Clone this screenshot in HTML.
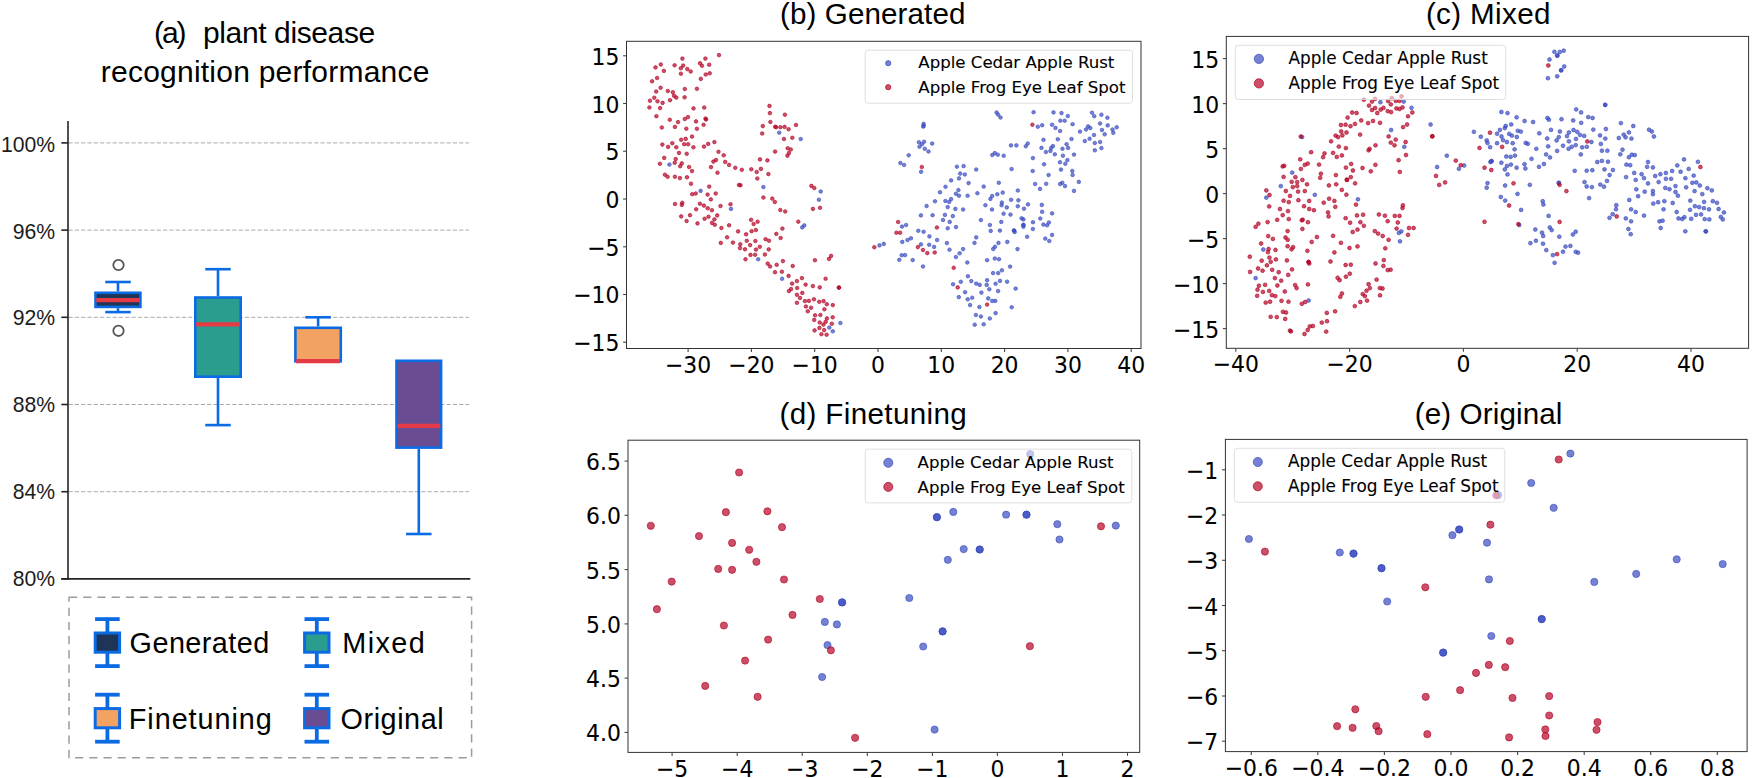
<!DOCTYPE html>
<html lang="en"><head><meta charset="utf-8"><title>Plant disease recognition performance and t-SNE</title>
<style>
html,body{margin:0;padding:0;background:#fff;}
body{width:1756px;height:778px;overflow:hidden;}
svg{display:block;}
.ttl{font-family:"Liberation Sans",sans-serif;fill:#000;}
.tk{font-family:"DejaVu Sans","Liberation Sans",sans-serif;font-size:21.9px;fill:#000;stroke:#000;stroke-width:.08px;}
.lg{font-family:"DejaVu Sans","Liberation Sans",sans-serif;fill:#000;stroke:#000;stroke-width:.1px;}
.pa{font-family:"Liberation Sans",sans-serif;font-size:21.2px;fill:#1c1c1c;}
.r{fill:#b40426;fill-opacity:.7;stroke:#b40426;stroke-opacity:.7}
.b{fill:#3b4cc0;fill-opacity:.7;stroke:#3b4cc0;stroke-opacity:.7}
</style></head><body>
<svg width="1756" height="778" viewBox="0 0 1756 778">
<rect width="1756" height="778" fill="#fff"/>

<text class="ttl" x="154.0" y="43" font-size="30" textLength="32.6">(a)</text>
<text class="ttl" x="203.0" y="43" font-size="30" textLength="172.2">plant disease</text>
<text class="ttl" x="100.8" y="82.3" font-size="30" textLength="328.6">recognition performance</text>
<line x1="68.5" x2="469" y1="142.9" y2="142.9" stroke="#aaaaaa" stroke-width="1" stroke-dasharray="4.2 2.1"/>
<line x1="68.5" x2="469" y1="230.1" y2="230.1" stroke="#aaaaaa" stroke-width="1" stroke-dasharray="4.2 2.1"/>
<line x1="68.5" x2="469" y1="317.3" y2="317.3" stroke="#aaaaaa" stroke-width="1" stroke-dasharray="4.2 2.1"/>
<line x1="68.5" x2="469" y1="404.5" y2="404.5" stroke="#aaaaaa" stroke-width="1" stroke-dasharray="4.2 2.1"/>
<line x1="68.5" x2="469" y1="491.7" y2="491.7" stroke="#aaaaaa" stroke-width="1" stroke-dasharray="4.2 2.1"/>
<line x1="118.0" x2="118.0" y1="282.0" y2="291.5" stroke="#0b6be3" stroke-width="2.6"/><line x1="105.25" x2="130.75" y1="282.0" y2="282.0" stroke="#0b6be3" stroke-width="2.6"/><line x1="118.0" x2="118.0" y1="312.1" y2="308.2" stroke="#0b6be3" stroke-width="2.6"/><line x1="105.25" x2="130.75" y1="312.1" y2="312.1" stroke="#0b6be3" stroke-width="2.6"/><rect x="95.5" y="292.8" width="44.9" height="14.1" fill="#1f3557" stroke="#0b6be3" stroke-width="2.6"/><line x1="96.3" x2="139.7" y1="300.2" y2="300.2" stroke="#e63946" stroke-width="4.2"/>
<line x1="218.0" x2="218.0" y1="269.2" y2="296.2" stroke="#0b6be3" stroke-width="2.6"/><line x1="205.25" x2="230.75" y1="269.2" y2="269.2" stroke="#0b6be3" stroke-width="2.6"/><line x1="218.0" x2="218.0" y1="425.1" y2="378.0" stroke="#0b6be3" stroke-width="2.6"/><line x1="205.25" x2="230.75" y1="425.1" y2="425.1" stroke="#0b6be3" stroke-width="2.6"/><rect x="195.3" y="297.5" width="45.4" height="79.2" fill="#2a9d8f" stroke="#0b6be3" stroke-width="2.6"/><line x1="196.1" x2="239.9" y1="324.4" y2="324.4" stroke="#e63946" stroke-width="4.2"/>
<line x1="318.1" x2="318.1" y1="317.3" y2="326.5" stroke="#0b6be3" stroke-width="2.6"/><line x1="305.35" x2="330.85" y1="317.3" y2="317.3" stroke="#0b6be3" stroke-width="2.6"/><rect x="295.4" y="327.8" width="45.4" height="33.5" fill="#f4a261" stroke="#0b6be3" stroke-width="2.6"/><line x1="296.2" x2="340.0" y1="361.2" y2="361.2" stroke="#e63946" stroke-width="4.2"/>
<line x1="418.8" x2="418.8" y1="534.0" y2="448.9" stroke="#0b6be3" stroke-width="2.6"/><line x1="406.05" x2="431.55" y1="534.0" y2="534.0" stroke="#0b6be3" stroke-width="2.6"/><rect x="396.5" y="360.8" width="44.6" height="86.8" fill="#6a4c93" stroke="#0b6be3" stroke-width="2.6"/><line x1="397.3" x2="440.3" y1="425.8" y2="425.8" stroke="#e63946" stroke-width="4.2"/>
<circle cx="118.5" cy="265.0" r="5.2" fill="#fff" stroke="#555" stroke-width="1.8"/>
<circle cx="118.5" cy="330.8" r="5.2" fill="#fff" stroke="#555" stroke-width="1.8"/>
<line x1="68" x2="68" y1="121" y2="579.7" stroke="#242424" stroke-width="1.6"/>
<line x1="61.3" x2="470.3" y1="578.9" y2="578.9" stroke="#242424" stroke-width="1.6"/>
<line x1="61.3" x2="68" y1="142.9" y2="142.9" stroke="#242424" stroke-width="1.6"/>
<text class="pa" x="55.2" y="151.6" text-anchor="end">100%</text>
<line x1="61.3" x2="68" y1="230.1" y2="230.1" stroke="#242424" stroke-width="1.6"/>
<text class="pa" x="55.2" y="238.5" text-anchor="end">96%</text>
<line x1="61.3" x2="68" y1="317.3" y2="317.3" stroke="#242424" stroke-width="1.6"/>
<text class="pa" x="55.2" y="325.4" text-anchor="end">92%</text>
<line x1="61.3" x2="68" y1="404.5" y2="404.5" stroke="#242424" stroke-width="1.6"/>
<text class="pa" x="55.2" y="412.3" text-anchor="end">88%</text>
<line x1="61.3" x2="68" y1="491.7" y2="491.7" stroke="#242424" stroke-width="1.6"/>
<text class="pa" x="55.2" y="499.2" text-anchor="end">84%</text>
<line x1="61.3" x2="68" y1="578.9" y2="578.9" stroke="#242424" stroke-width="1.6"/>
<text class="pa" x="55.2" y="586.1" text-anchor="end">80%</text>
<rect x="69" y="597.3" width="402.6" height="160.5" fill="none" stroke="#9c9c9c" stroke-width="1.5" stroke-dasharray="8.2 6"/>
<line x1="107.4" x2="107.4" y1="619.1" y2="666.1" stroke="#0b6be3" stroke-width="3.8"/><line x1="95.10000000000001" x2="119.7" y1="619.1" y2="619.1" stroke="#0b6be3" stroke-width="3.8"/><line x1="95.10000000000001" x2="119.7" y1="666.1" y2="666.1" stroke="#0b6be3" stroke-width="3.8"/><rect x="95.2" y="633.0" width="24.4" height="19.2" fill="#1f3557" stroke="#0b6be3" stroke-width="3"/>
<text class="ttl" x="129.6" y="652.8" font-size="28.8" textLength="139.6">Generated</text>
<line x1="316.8" x2="316.8" y1="619.1" y2="666.1" stroke="#0b6be3" stroke-width="3.8"/><line x1="304.5" x2="329.1" y1="619.1" y2="619.1" stroke="#0b6be3" stroke-width="3.8"/><line x1="304.5" x2="329.1" y1="666.1" y2="666.1" stroke="#0b6be3" stroke-width="3.8"/><rect x="304.6" y="633.0" width="24.4" height="19.2" fill="#2a9d8f" stroke="#0b6be3" stroke-width="3"/>
<text class="ttl" x="342.2" y="652.8" font-size="28.8" textLength="82.6">Mixed</text>
<line x1="107.4" x2="107.4" y1="694.7" y2="741.7" stroke="#0b6be3" stroke-width="3.8"/><line x1="95.10000000000001" x2="119.7" y1="694.7" y2="694.7" stroke="#0b6be3" stroke-width="3.8"/><line x1="95.10000000000001" x2="119.7" y1="741.7" y2="741.7" stroke="#0b6be3" stroke-width="3.8"/><rect x="95.2" y="708.6" width="24.4" height="19.2" fill="#f4a261" stroke="#0b6be3" stroke-width="3"/>
<text class="ttl" x="128.8" y="728.8" font-size="28.8" textLength="143">Finetuning</text>
<line x1="316.8" x2="316.8" y1="694.7" y2="741.7" stroke="#0b6be3" stroke-width="3.8"/><line x1="304.5" x2="329.1" y1="694.7" y2="694.7" stroke="#0b6be3" stroke-width="3.8"/><line x1="304.5" x2="329.1" y1="741.7" y2="741.7" stroke="#0b6be3" stroke-width="3.8"/><rect x="304.6" y="708.6" width="24.4" height="19.2" fill="#6a4c93" stroke="#0b6be3" stroke-width="3"/>
<text class="ttl" x="340.6" y="728.8" font-size="28.8" textLength="103">Original</text>
<g id="pb"><text class="ttl" x="780.0" y="23.8" font-size="29.6" textLength="185.4">(b) Generated</text><g class="b" stroke-width="0.9"><circle cx="779.2" cy="132.7" r="1.8"/><circle cx="800.7" cy="139.0" r="1.8"/><circle cx="669.4" cy="164.6" r="1.8"/><circle cx="700.6" cy="190.9" r="1.8"/><circle cx="763.4" cy="187.1" r="1.8"/><circle cx="820.7" cy="191.5" r="1.8"/><circle cx="818.9" cy="199.7" r="1.8"/><circle cx="731.0" cy="208.9" r="1.8"/><circle cx="804.3" cy="225.4" r="1.8"/><circle cx="802.2" cy="227.4" r="1.8"/><circle cx="758.2" cy="259.3" r="1.8"/><circle cx="879.5" cy="245.4" r="1.8"/><circle cx="883.8" cy="243.9" r="1.8"/><circle cx="782.1" cy="278.8" r="1.8"/><circle cx="840.4" cy="323.0" r="1.8"/><circle cx="829.3" cy="327.6" r="1.8"/><circle cx="832.8" cy="331.3" r="1.8"/><circle cx="996.6" cy="112.5" r="1.8"/><circle cx="998.1" cy="114.6" r="1.8"/><circle cx="1000.5" cy="117.5" r="1.8"/><circle cx="1033.6" cy="112.2" r="1.8"/><circle cx="1053.5" cy="112.4" r="1.8"/><circle cx="1061.5" cy="113.1" r="1.8"/><circle cx="1067.8" cy="116.1" r="1.8"/><circle cx="1092.0" cy="112.7" r="1.8"/><circle cx="1094.2" cy="116.2" r="1.8"/><circle cx="1101.4" cy="114.7" r="1.8"/><circle cx="1107.4" cy="117.7" r="1.8"/><circle cx="1060.4" cy="120.7" r="1.8"/><circle cx="1064.7" cy="120.7" r="1.8"/><circle cx="1072.6" cy="124.2" r="1.8"/><circle cx="1100.1" cy="123.5" r="1.8"/><circle cx="1107.7" cy="125.4" r="1.8"/><circle cx="1116.7" cy="127.2" r="1.8"/><circle cx="923.6" cy="123.9" r="1.8"/><circle cx="923.6" cy="125.7" r="1.8"/><circle cx="923.3" cy="126.6" r="1.8"/><circle cx="1037.8" cy="126.7" r="1.8"/><circle cx="1042.2" cy="125.2" r="1.8"/><circle cx="1052.1" cy="124.7" r="1.8"/><circle cx="1055.5" cy="127.9" r="1.8"/><circle cx="1060.1" cy="131.0" r="1.8"/><circle cx="1088.1" cy="126.4" r="1.8"/><circle cx="1090.3" cy="128.1" r="1.8"/><circle cx="1086.0" cy="129.5" r="1.8"/><circle cx="1080.0" cy="131.6" r="1.8"/><circle cx="1102.0" cy="130.0" r="1.8"/><circle cx="1112.5" cy="129.5" r="1.8"/><circle cx="1113.3" cy="132.8" r="1.8"/><circle cx="1104.7" cy="134.3" r="1.8"/><circle cx="1094.0" cy="135.0" r="1.8"/><circle cx="1043.5" cy="139.8" r="1.8"/><circle cx="1057.8" cy="139.3" r="1.8"/><circle cx="1071.5" cy="139.0" r="1.8"/><circle cx="1089.6" cy="138.7" r="1.8"/><circle cx="1084.8" cy="141.1" r="1.8"/><circle cx="1094.8" cy="143.0" r="1.8"/><circle cx="1100.1" cy="142.0" r="1.8"/><circle cx="918.9" cy="142.3" r="1.8"/><circle cx="924.1" cy="141.7" r="1.8"/><circle cx="922.0" cy="144.2" r="1.8"/><circle cx="932.2" cy="143.6" r="1.8"/><circle cx="919.5" cy="146.7" r="1.8"/><circle cx="924.8" cy="148.8" r="1.8"/><circle cx="928.5" cy="151.5" r="1.8"/><circle cx="1011.0" cy="145.4" r="1.8"/><circle cx="1016.4" cy="145.4" r="1.8"/><circle cx="1027.7" cy="143.5" r="1.8"/><circle cx="1025.8" cy="146.3" r="1.8"/><circle cx="1066.6" cy="144.2" r="1.8"/><circle cx="1053.0" cy="146.1" r="1.8"/><circle cx="1051.2" cy="147.9" r="1.8"/><circle cx="1041.5" cy="147.9" r="1.8"/><circle cx="1062.5" cy="148.8" r="1.8"/><circle cx="1068.1" cy="147.9" r="1.8"/><circle cx="1101.4" cy="148.1" r="1.8"/><circle cx="1094.8" cy="150.3" r="1.8"/><circle cx="1045.9" cy="152.0" r="1.8"/><circle cx="1050.4" cy="151.0" r="1.8"/><circle cx="1054.8" cy="154.3" r="1.8"/><circle cx="1074.0" cy="154.6" r="1.8"/><circle cx="908.7" cy="155.3" r="1.8"/><circle cx="994.8" cy="153.1" r="1.8"/><circle cx="992.3" cy="155.0" r="1.8"/><circle cx="997.8" cy="154.7" r="1.8"/><circle cx="1003.7" cy="155.7" r="1.8"/><circle cx="1062.9" cy="155.7" r="1.8"/><circle cx="1032.9" cy="158.1" r="1.8"/><circle cx="1067.4" cy="160.1" r="1.8"/><circle cx="900.4" cy="163.0" r="1.8"/><circle cx="904.1" cy="165.0" r="1.8"/><circle cx="1060.0" cy="162.2" r="1.8"/><circle cx="1065.3" cy="163.7" r="1.8"/><circle cx="1044.1" cy="164.3" r="1.8"/><circle cx="956.9" cy="166.7" r="1.8"/><circle cx="963.6" cy="166.1" r="1.8"/><circle cx="976.2" cy="169.5" r="1.8"/><circle cx="1011.6" cy="169.0" r="1.8"/><circle cx="1061.0" cy="169.6" r="1.8"/><circle cx="1032.7" cy="171.0" r="1.8"/><circle cx="1072.3" cy="171.0" r="1.8"/><circle cx="921.1" cy="171.8" r="1.8"/><circle cx="960.2" cy="173.6" r="1.8"/><circle cx="964.8" cy="174.5" r="1.8"/><circle cx="1048.6" cy="175.0" r="1.8"/><circle cx="1072.6" cy="175.0" r="1.8"/><circle cx="959.0" cy="178.4" r="1.8"/><circle cx="951.1" cy="180.4" r="1.8"/><circle cx="968.6" cy="183.1" r="1.8"/><circle cx="998.8" cy="182.8" r="1.8"/><circle cx="1078.8" cy="181.9" r="1.8"/><circle cx="1062.3" cy="182.8" r="1.8"/><circle cx="1060.1" cy="184.1" r="1.8"/><circle cx="1065.0" cy="186.1" r="1.8"/><circle cx="1035.1" cy="184.0" r="1.8"/><circle cx="1046.2" cy="183.8" r="1.8"/><circle cx="945.5" cy="186.8" r="1.8"/><circle cx="983.7" cy="186.6" r="1.8"/><circle cx="1040.0" cy="188.9" r="1.8"/><circle cx="958.4" cy="190.1" r="1.8"/><circle cx="1017.8" cy="190.5" r="1.8"/><circle cx="1074.0" cy="190.9" r="1.8"/><circle cx="940.0" cy="192.3" r="1.8"/><circle cx="955.9" cy="193.8" r="1.8"/><circle cx="959.0" cy="195.7" r="1.8"/><circle cx="967.6" cy="195.7" r="1.8"/><circle cx="977.4" cy="193.2" r="1.8"/><circle cx="997.3" cy="194.2" r="1.8"/><circle cx="1002.7" cy="192.6" r="1.8"/><circle cx="992.2" cy="196.0" r="1.8"/><circle cx="990.4" cy="198.9" r="1.8"/><circle cx="951.1" cy="199.1" r="1.8"/><circle cx="945.4" cy="201.0" r="1.8"/><circle cx="949.2" cy="201.9" r="1.8"/><circle cx="935.0" cy="201.3" r="1.8"/><circle cx="1011.1" cy="199.8" r="1.8"/><circle cx="1018.4" cy="200.3" r="1.8"/><circle cx="1001.9" cy="202.5" r="1.8"/><circle cx="1001.6" cy="205.2" r="1.8"/><circle cx="1028.0" cy="204.4" r="1.8"/><circle cx="1041.8" cy="204.9" r="1.8"/><circle cx="985.4" cy="205.2" r="1.8"/><circle cx="926.6" cy="206.0" r="1.8"/><circle cx="947.7" cy="207.1" r="1.8"/><circle cx="955.4" cy="208.9" r="1.8"/><circle cx="963.1" cy="209.5" r="1.8"/><circle cx="992.0" cy="209.5" r="1.8"/><circle cx="1006.8" cy="207.4" r="1.8"/><circle cx="1017.8" cy="206.2" r="1.8"/><circle cx="1024.0" cy="208.7" r="1.8"/><circle cx="1042.1" cy="211.8" r="1.8"/><circle cx="1052.1" cy="213.4" r="1.8"/><circle cx="1003.6" cy="213.7" r="1.8"/><circle cx="1010.5" cy="214.6" r="1.8"/><circle cx="920.9" cy="215.4" r="1.8"/><circle cx="932.6" cy="215.2" r="1.8"/><circle cx="944.9" cy="214.9" r="1.8"/><circle cx="952.8" cy="216.1" r="1.8"/><circle cx="943.0" cy="220.0" r="1.8"/><circle cx="949.7" cy="221.9" r="1.8"/><circle cx="980.9" cy="220.1" r="1.8"/><circle cx="1001.3" cy="221.9" r="1.8"/><circle cx="1021.6" cy="218.3" r="1.8"/><circle cx="1023.4" cy="219.4" r="1.8"/><circle cx="1040.3" cy="218.5" r="1.8"/><circle cx="1033.0" cy="222.2" r="1.8"/><circle cx="1048.9" cy="222.5" r="1.8"/><circle cx="1043.4" cy="224.6" r="1.8"/><circle cx="1047.1" cy="225.3" r="1.8"/><circle cx="906.1" cy="225.0" r="1.8"/><circle cx="902.0" cy="226.6" r="1.8"/><circle cx="989.9" cy="225.0" r="1.8"/><circle cx="1023.4" cy="224.8" r="1.8"/><circle cx="1023.4" cy="225.0" r="1.8"/><circle cx="1023.4" cy="226.8" r="1.8"/><circle cx="956.0" cy="227.1" r="1.8"/><circle cx="947.7" cy="228.3" r="1.8"/><circle cx="1032.9" cy="229.0" r="1.8"/><circle cx="990.7" cy="230.9" r="1.8"/><circle cx="999.9" cy="230.6" r="1.8"/><circle cx="1013.9" cy="230.5" r="1.8"/><circle cx="1014.1" cy="230.6" r="1.8"/><circle cx="1014.7" cy="232.0" r="1.8"/><circle cx="918.3" cy="230.8" r="1.8"/><circle cx="923.6" cy="231.8" r="1.8"/><circle cx="1052.1" cy="234.9" r="1.8"/><circle cx="1027.1" cy="236.8" r="1.8"/><circle cx="929.4" cy="236.4" r="1.8"/><circle cx="976.2" cy="237.4" r="1.8"/><circle cx="1045.3" cy="238.6" r="1.8"/><circle cx="1049.3" cy="241.0" r="1.8"/><circle cx="937.1" cy="240.0" r="1.8"/><circle cx="910.9" cy="238.3" r="1.8"/><circle cx="907.5" cy="240.0" r="1.8"/><circle cx="902.3" cy="241.9" r="1.8"/><circle cx="946.9" cy="243.1" r="1.8"/><circle cx="974.5" cy="242.9" r="1.8"/><circle cx="998.5" cy="242.9" r="1.8"/><circle cx="1007.3" cy="241.9" r="1.8"/><circle cx="920.9" cy="244.4" r="1.8"/><circle cx="929.2" cy="244.8" r="1.8"/><circle cx="934.1" cy="246.9" r="1.8"/><circle cx="995.0" cy="246.8" r="1.8"/><circle cx="993.2" cy="249.0" r="1.8"/><circle cx="1017.5" cy="249.1" r="1.8"/><circle cx="963.1" cy="249.1" r="1.8"/><circle cx="949.5" cy="249.7" r="1.8"/><circle cx="959.6" cy="253.3" r="1.8"/><circle cx="955.9" cy="257.0" r="1.8"/><circle cx="901.7" cy="255.2" r="1.8"/><circle cx="905.1" cy="255.1" r="1.8"/><circle cx="899.3" cy="259.8" r="1.8"/><circle cx="912.7" cy="260.1" r="1.8"/><circle cx="987.1" cy="260.2" r="1.8"/><circle cx="994.8" cy="258.5" r="1.8"/><circle cx="999.0" cy="259.2" r="1.8"/><circle cx="967.3" cy="262.5" r="1.8"/><circle cx="923.0" cy="266.5" r="1.8"/><circle cx="1010.1" cy="266.6" r="1.8"/><circle cx="1001.9" cy="270.3" r="1.8"/><circle cx="993.1" cy="273.1" r="1.8"/><circle cx="998.2" cy="273.1" r="1.8"/><circle cx="967.9" cy="276.3" r="1.8"/><circle cx="987.1" cy="280.2" r="1.8"/><circle cx="960.8" cy="281.8" r="1.8"/><circle cx="971.3" cy="281.1" r="1.8"/><circle cx="1000.0" cy="280.9" r="1.8"/><circle cx="1007.1" cy="281.7" r="1.8"/><circle cx="953.1" cy="284.3" r="1.8"/><circle cx="976.2" cy="283.6" r="1.8"/><circle cx="979.7" cy="284.9" r="1.8"/><circle cx="986.7" cy="284.9" r="1.8"/><circle cx="995.6" cy="283.7" r="1.8"/><circle cx="989.3" cy="289.2" r="1.8"/><circle cx="1015.6" cy="288.6" r="1.8"/><circle cx="998.1" cy="291.1" r="1.8"/><circle cx="965.1" cy="292.2" r="1.8"/><circle cx="981.4" cy="292.6" r="1.8"/><circle cx="958.8" cy="297.1" r="1.8"/><circle cx="967.7" cy="299.3" r="1.8"/><circle cx="972.2" cy="297.7" r="1.8"/><circle cx="988.2" cy="298.4" r="1.8"/><circle cx="992.2" cy="300.9" r="1.8"/><circle cx="995.3" cy="300.9" r="1.8"/><circle cx="970.1" cy="305.1" r="1.8"/><circle cx="979.4" cy="307.0" r="1.8"/><circle cx="1011.7" cy="307.3" r="1.8"/><circle cx="995.6" cy="313.1" r="1.8"/><circle cx="975.9" cy="315.0" r="1.8"/><circle cx="980.9" cy="316.5" r="1.8"/><circle cx="989.8" cy="318.5" r="1.8"/><circle cx="974.7" cy="324.7" r="1.8"/><circle cx="983.7" cy="324.3" r="1.8"/></g><g class="r" stroke-width="0.9"><circle cx="719.0" cy="55.1" r="1.8"/><circle cx="682.4" cy="58.6" r="1.8"/><circle cx="705.4" cy="58.6" r="1.8"/><circle cx="660.8" cy="64.5" r="1.8"/><circle cx="674.6" cy="65.3" r="1.8"/><circle cx="683.2" cy="65.6" r="1.8"/><circle cx="700.0" cy="63.2" r="1.8"/><circle cx="702.0" cy="65.7" r="1.8"/><circle cx="709.2" cy="64.7" r="1.8"/><circle cx="655.5" cy="67.4" r="1.8"/><circle cx="680.8" cy="68.2" r="1.8"/><circle cx="687.3" cy="69.1" r="1.8"/><circle cx="690.7" cy="71.5" r="1.8"/><circle cx="663.9" cy="70.9" r="1.8"/><circle cx="680.9" cy="73.7" r="1.8"/><circle cx="709.7" cy="73.3" r="1.8"/><circle cx="705.7" cy="74.5" r="1.8"/><circle cx="700.8" cy="78.9" r="1.8"/><circle cx="657.1" cy="78.0" r="1.8"/><circle cx="652.1" cy="81.3" r="1.8"/><circle cx="660.6" cy="87.8" r="1.8"/><circle cx="684.8" cy="89.0" r="1.8"/><circle cx="696.9" cy="88.8" r="1.8"/><circle cx="656.2" cy="91.5" r="1.8"/><circle cx="667.8" cy="91.0" r="1.8"/><circle cx="672.8" cy="92.2" r="1.8"/><circle cx="674.0" cy="95.8" r="1.8"/><circle cx="676.3" cy="97.6" r="1.8"/><circle cx="684.6" cy="97.3" r="1.8"/><circle cx="654.3" cy="97.7" r="1.8"/><circle cx="650.0" cy="100.7" r="1.8"/><circle cx="657.5" cy="101.3" r="1.8"/><circle cx="662.6" cy="102.9" r="1.8"/><circle cx="670.0" cy="100.2" r="1.8"/><circle cx="649.4" cy="107.5" r="1.8"/><circle cx="660.1" cy="108.1" r="1.8"/><circle cx="693.5" cy="108.4" r="1.8"/><circle cx="704.2" cy="107.6" r="1.8"/><circle cx="656.4" cy="116.2" r="1.8"/><circle cx="688.0" cy="117.1" r="1.8"/><circle cx="684.8" cy="119.0" r="1.8"/><circle cx="669.8" cy="119.8" r="1.8"/><circle cx="678.0" cy="122.1" r="1.8"/><circle cx="696.0" cy="121.4" r="1.8"/><circle cx="705.5" cy="118.6" r="1.8"/><circle cx="706.1" cy="119.5" r="1.8"/><circle cx="703.6" cy="124.8" r="1.8"/><circle cx="661.8" cy="127.5" r="1.8"/><circle cx="674.9" cy="126.9" r="1.8"/><circle cx="686.3" cy="128.7" r="1.8"/><circle cx="696.9" cy="128.8" r="1.8"/><circle cx="692.0" cy="136.6" r="1.8"/><circle cx="685.7" cy="138.9" r="1.8"/><circle cx="681.2" cy="139.8" r="1.8"/><circle cx="672.3" cy="143.2" r="1.8"/><circle cx="662.4" cy="144.6" r="1.8"/><circle cx="668.1" cy="146.9" r="1.8"/><circle cx="676.3" cy="147.3" r="1.8"/><circle cx="684.2" cy="144.2" r="1.8"/><circle cx="688.2" cy="144.2" r="1.8"/><circle cx="693.4" cy="147.3" r="1.8"/><circle cx="704.0" cy="146.6" r="1.8"/><circle cx="708.2" cy="143.9" r="1.8"/><circle cx="714.4" cy="142.1" r="1.8"/><circle cx="679.0" cy="152.9" r="1.8"/><circle cx="686.7" cy="153.8" r="1.8"/><circle cx="718.5" cy="151.8" r="1.8"/><circle cx="723.7" cy="155.3" r="1.8"/><circle cx="769.5" cy="105.9" r="1.8"/><circle cx="769.9" cy="113.1" r="1.8"/><circle cx="784.9" cy="114.7" r="1.8"/><circle cx="770.4" cy="122.0" r="1.8"/><circle cx="762.8" cy="126.1" r="1.8"/><circle cx="775.2" cy="126.7" r="1.8"/><circle cx="776.1" cy="127.2" r="1.8"/><circle cx="780.4" cy="127.2" r="1.8"/><circle cx="784.6" cy="126.9" r="1.8"/><circle cx="788.6" cy="129.2" r="1.8"/><circle cx="796.0" cy="125.0" r="1.8"/><circle cx="762.2" cy="133.5" r="1.8"/><circle cx="784.0" cy="139.0" r="1.8"/><circle cx="792.3" cy="137.8" r="1.8"/><circle cx="775.1" cy="151.6" r="1.8"/><circle cx="787.7" cy="148.3" r="1.8"/><circle cx="790.8" cy="149.5" r="1.8"/><circle cx="788.9" cy="153.1" r="1.8"/><circle cx="787.4" cy="155.7" r="1.8"/><circle cx="664.2" cy="157.9" r="1.8"/><circle cx="675.7" cy="159.1" r="1.8"/><circle cx="716.0" cy="160.0" r="1.8"/><circle cx="713.4" cy="161.6" r="1.8"/><circle cx="725.2" cy="161.9" r="1.8"/><circle cx="760.0" cy="159.4" r="1.8"/><circle cx="767.4" cy="160.4" r="1.8"/><circle cx="659.9" cy="163.8" r="1.8"/><circle cx="674.7" cy="162.8" r="1.8"/><circle cx="681.8" cy="163.4" r="1.8"/><circle cx="680.2" cy="166.2" r="1.8"/><circle cx="689.1" cy="167.0" r="1.8"/><circle cx="711.0" cy="167.1" r="1.8"/><circle cx="729.1" cy="164.9" r="1.8"/><circle cx="735.3" cy="167.8" r="1.8"/><circle cx="741.8" cy="169.8" r="1.8"/><circle cx="751.3" cy="169.3" r="1.8"/><circle cx="760.9" cy="168.9" r="1.8"/><circle cx="756.7" cy="172.0" r="1.8"/><circle cx="692.0" cy="171.1" r="1.8"/><circle cx="717.5" cy="172.7" r="1.8"/><circle cx="768.4" cy="174.1" r="1.8"/><circle cx="664.9" cy="174.7" r="1.8"/><circle cx="667.6" cy="176.7" r="1.8"/><circle cx="674.9" cy="176.7" r="1.8"/><circle cx="679.9" cy="178.1" r="1.8"/><circle cx="687.0" cy="177.3" r="1.8"/><circle cx="757.3" cy="178.5" r="1.8"/><circle cx="691.0" cy="183.7" r="1.8"/><circle cx="709.2" cy="186.6" r="1.8"/><circle cx="739.0" cy="185.0" r="1.8"/><circle cx="740.5" cy="185.2" r="1.8"/><circle cx="811.4" cy="185.9" r="1.8"/><circle cx="814.3" cy="188.0" r="1.8"/><circle cx="692.2" cy="194.2" r="1.8"/><circle cx="695.7" cy="193.5" r="1.8"/><circle cx="707.6" cy="194.6" r="1.8"/><circle cx="715.7" cy="193.5" r="1.8"/><circle cx="710.8" cy="199.4" r="1.8"/><circle cx="763.4" cy="197.5" r="1.8"/><circle cx="772.3" cy="198.6" r="1.8"/><circle cx="774.8" cy="202.0" r="1.8"/><circle cx="675.0" cy="204.0" r="1.8"/><circle cx="682.3" cy="202.8" r="1.8"/><circle cx="681.8" cy="204.9" r="1.8"/><circle cx="699.9" cy="203.7" r="1.8"/><circle cx="703.9" cy="205.6" r="1.8"/><circle cx="730.5" cy="204.3" r="1.8"/><circle cx="720.5" cy="206.0" r="1.8"/><circle cx="707.7" cy="208.3" r="1.8"/><circle cx="711.9" cy="210.2" r="1.8"/><circle cx="696.2" cy="209.3" r="1.8"/><circle cx="780.3" cy="210.0" r="1.8"/><circle cx="785.2" cy="211.5" r="1.8"/><circle cx="812.9" cy="208.9" r="1.8"/><circle cx="820.0" cy="207.8" r="1.8"/><circle cx="681.2" cy="216.4" r="1.8"/><circle cx="690.0" cy="215.2" r="1.8"/><circle cx="717.2" cy="215.4" r="1.8"/><circle cx="708.5" cy="216.7" r="1.8"/><circle cx="704.6" cy="218.8" r="1.8"/><circle cx="714.4" cy="219.4" r="1.8"/><circle cx="686.6" cy="221.0" r="1.8"/><circle cx="697.5" cy="223.4" r="1.8"/><circle cx="712.0" cy="222.9" r="1.8"/><circle cx="714.8" cy="224.8" r="1.8"/><circle cx="751.1" cy="219.8" r="1.8"/><circle cx="757.6" cy="221.7" r="1.8"/><circle cx="753.6" cy="224.0" r="1.8"/><circle cx="798.3" cy="221.7" r="1.8"/><circle cx="721.4" cy="228.0" r="1.8"/><circle cx="729.1" cy="225.3" r="1.8"/><circle cx="782.4" cy="228.6" r="1.8"/><circle cx="738.1" cy="231.4" r="1.8"/><circle cx="751.6" cy="231.2" r="1.8"/><circle cx="755.9" cy="230.0" r="1.8"/><circle cx="746.1" cy="234.3" r="1.8"/><circle cx="776.3" cy="233.9" r="1.8"/><circle cx="780.6" cy="238.0" r="1.8"/><circle cx="727.1" cy="237.3" r="1.8"/><circle cx="765.6" cy="239.2" r="1.8"/><circle cx="769.0" cy="240.7" r="1.8"/><circle cx="720.8" cy="242.9" r="1.8"/><circle cx="732.9" cy="242.6" r="1.8"/><circle cx="746.8" cy="240.8" r="1.8"/><circle cx="755.4" cy="241.0" r="1.8"/><circle cx="740.3" cy="244.2" r="1.8"/><circle cx="750.1" cy="245.1" r="1.8"/><circle cx="759.8" cy="246.8" r="1.8"/><circle cx="740.0" cy="248.1" r="1.8"/><circle cx="745.0" cy="249.3" r="1.8"/><circle cx="756.0" cy="249.6" r="1.8"/><circle cx="768.7" cy="249.4" r="1.8"/><circle cx="750.5" cy="254.9" r="1.8"/><circle cx="755.1" cy="254.8" r="1.8"/><circle cx="764.9" cy="254.5" r="1.8"/><circle cx="831.1" cy="255.9" r="1.8"/><circle cx="829.0" cy="258.9" r="1.8"/><circle cx="745.5" cy="259.3" r="1.8"/><circle cx="814.9" cy="260.2" r="1.8"/><circle cx="782.9" cy="261.1" r="1.8"/><circle cx="767.7" cy="263.6" r="1.8"/><circle cx="776.7" cy="264.8" r="1.8"/><circle cx="770.1" cy="266.5" r="1.8"/><circle cx="792.7" cy="266.0" r="1.8"/><circle cx="874.3" cy="247.2" r="1.8"/><circle cx="775.0" cy="272.2" r="1.8"/><circle cx="781.9" cy="271.7" r="1.8"/><circle cx="788.6" cy="275.9" r="1.8"/><circle cx="801.9" cy="278.1" r="1.8"/><circle cx="825.6" cy="278.7" r="1.8"/><circle cx="796.9" cy="281.1" r="1.8"/><circle cx="792.1" cy="283.6" r="1.8"/><circle cx="805.6" cy="284.6" r="1.8"/><circle cx="812.9" cy="286.1" r="1.8"/><circle cx="819.7" cy="287.4" r="1.8"/><circle cx="838.9" cy="287.6" r="1.8"/><circle cx="838.9" cy="287.6" r="1.8"/><circle cx="791.1" cy="289.1" r="1.8"/><circle cx="797.2" cy="288.0" r="1.8"/><circle cx="788.9" cy="291.1" r="1.8"/><circle cx="802.3" cy="292.9" r="1.8"/><circle cx="796.9" cy="294.8" r="1.8"/><circle cx="800.0" cy="297.9" r="1.8"/><circle cx="813.9" cy="299.3" r="1.8"/><circle cx="804.9" cy="301.1" r="1.8"/><circle cx="808.9" cy="300.9" r="1.8"/><circle cx="819.2" cy="301.8" r="1.8"/><circle cx="823.5" cy="301.1" r="1.8"/><circle cx="796.9" cy="302.8" r="1.8"/><circle cx="826.8" cy="304.2" r="1.8"/><circle cx="832.8" cy="305.1" r="1.8"/><circle cx="805.9" cy="306.5" r="1.8"/><circle cx="811.1" cy="307.7" r="1.8"/><circle cx="824.4" cy="309.3" r="1.8"/><circle cx="807.8" cy="311.3" r="1.8"/><circle cx="815.1" cy="315.3" r="1.8"/><circle cx="820.4" cy="315.0" r="1.8"/><circle cx="826.9" cy="318.4" r="1.8"/><circle cx="832.7" cy="317.3" r="1.8"/><circle cx="814.2" cy="319.9" r="1.8"/><circle cx="819.7" cy="322.5" r="1.8"/><circle cx="825.7" cy="321.8" r="1.8"/><circle cx="823.4" cy="324.6" r="1.8"/><circle cx="831.8" cy="323.7" r="1.8"/><circle cx="819.4" cy="327.9" r="1.8"/><circle cx="814.6" cy="330.4" r="1.8"/><circle cx="824.1" cy="330.1" r="1.8"/><circle cx="821.4" cy="334.2" r="1.8"/><circle cx="826.6" cy="334.7" r="1.8"/><circle cx="1032.4" cy="124.7" r="1.8"/><circle cx="921.8" cy="167.0" r="1.8"/><circle cx="898.1" cy="222.0" r="1.8"/><circle cx="936.9" cy="227.5" r="1.8"/><circle cx="896.4" cy="232.7" r="1.8"/><circle cx="900.1" cy="232.7" r="1.8"/><circle cx="917.8" cy="247.1" r="1.8"/><circle cx="923.0" cy="250.0" r="1.8"/><circle cx="927.3" cy="253.1" r="1.8"/><circle cx="934.7" cy="252.5" r="1.8"/><circle cx="953.7" cy="267.8" r="1.8"/><circle cx="957.7" cy="287.4" r="1.8"/><circle cx="987.1" cy="304.6" r="1.8"/></g><rect x="865.2" y="50.2" width="267.3" height="53" rx="3" ry="3" fill="#fff" fill-opacity="0.55" stroke="#d9d9d9" stroke-opacity="0.85" stroke-width="1"/><circle class="b" cx="888.2" cy="63.2" r="2.6" stroke-width="1.0"/><circle class="r" cx="888.2" cy="87.2" r="2.6" stroke-width="1.0"/><text class="lg" font-size="16.6" x="918.3" y="68.4">Apple Cedar Apple Rust</text><text class="lg" font-size="16.6" x="918.3" y="92.8">Apple Frog Eye Leaf Spot</text><rect x="626.5" y="41.3" width="514.5" height="307.2" fill="none" stroke="#333" stroke-width="1"/><line x1="688.1" x2="688.1" y1="348.5" y2="352.0" stroke="#444" stroke-width="1.1"/><text class="tk" transform="translate(688.1,372.6) scale(1,1.07)" text-anchor="middle">−30</text><line x1="751.4" x2="751.4" y1="348.5" y2="352.0" stroke="#444" stroke-width="1.1"/><text class="tk" transform="translate(751.4,372.6) scale(1,1.07)" text-anchor="middle">−20</text><line x1="814.7" x2="814.7" y1="348.5" y2="352.0" stroke="#444" stroke-width="1.1"/><text class="tk" transform="translate(814.7,372.6) scale(1,1.07)" text-anchor="middle">−10</text><line x1="878.0" x2="878.0" y1="348.5" y2="352.0" stroke="#444" stroke-width="1.1"/><text class="tk" transform="translate(878.0,372.6) scale(1,1.07)" text-anchor="middle">0</text><line x1="941.3" x2="941.3" y1="348.5" y2="352.0" stroke="#444" stroke-width="1.1"/><text class="tk" transform="translate(941.3,372.6) scale(1,1.07)" text-anchor="middle">10</text><line x1="1004.6" x2="1004.6" y1="348.5" y2="352.0" stroke="#444" stroke-width="1.1"/><text class="tk" transform="translate(1004.6,372.6) scale(1,1.07)" text-anchor="middle">20</text><line x1="1067.9" x2="1067.9" y1="348.5" y2="352.0" stroke="#444" stroke-width="1.1"/><text class="tk" transform="translate(1067.9,372.6) scale(1,1.07)" text-anchor="middle">30</text><line x1="1131.2" x2="1131.2" y1="348.5" y2="352.0" stroke="#444" stroke-width="1.1"/><text class="tk" transform="translate(1131.2,372.6) scale(1,1.07)" text-anchor="middle">40</text><line x1="623.1" x2="626.5" y1="55.8" y2="55.8" stroke="#444" stroke-width="1.1"/><text class="tk" transform="translate(619.4,64.8) scale(1,1.07)" text-anchor="end">15</text><line x1="623.1" x2="626.5" y1="103.5" y2="103.5" stroke="#444" stroke-width="1.1"/><text class="tk" transform="translate(619.4,112.5) scale(1,1.07)" text-anchor="end">10</text><line x1="623.1" x2="626.5" y1="151.2" y2="151.2" stroke="#444" stroke-width="1.1"/><text class="tk" transform="translate(619.4,160.1) scale(1,1.07)" text-anchor="end">5</text><line x1="623.1" x2="626.5" y1="199.0" y2="199.0" stroke="#444" stroke-width="1.1"/><text class="tk" transform="translate(619.4,207.9) scale(1,1.07)" text-anchor="end">0</text><line x1="623.1" x2="626.5" y1="246.8" y2="246.8" stroke="#444" stroke-width="1.1"/><text class="tk" transform="translate(619.4,255.8) scale(1,1.07)" text-anchor="end">−5</text><line x1="623.1" x2="626.5" y1="294.5" y2="294.5" stroke="#444" stroke-width="1.1"/><text class="tk" transform="translate(619.4,303.4) scale(1,1.07)" text-anchor="end">−10</text><line x1="623.1" x2="626.5" y1="342.2" y2="342.2" stroke="#444" stroke-width="1.1"/><text class="tk" transform="translate(619.4,351.1) scale(1,1.07)" text-anchor="end">−15</text></g>
<g id="pc"><text class="ttl" x="1425.9" y="23.8" font-size="29.6" textLength="124.6">(c) Mixed</text><g class="b" stroke-width="0.9"><circle cx="1380.4" cy="102.2" r="1.9"/><circle cx="1403.7" cy="101.6" r="1.9"/><circle cx="1411.5" cy="107.8" r="1.9"/><circle cx="1430.6" cy="124.5" r="1.9"/><circle cx="1391.1" cy="130.0" r="1.9"/><circle cx="1302.1" cy="137.1" r="1.9"/><circle cx="1473.9" cy="131.8" r="1.9"/><circle cx="1480.8" cy="136.7" r="1.9"/><circle cx="1404.3" cy="146.8" r="1.9"/><circle cx="1554.4" cy="51.8" r="1.9"/><circle cx="1559.7" cy="52.0" r="1.9"/><circle cx="1563.7" cy="50.7" r="1.9"/><circle cx="1557.2" cy="55.5" r="1.9"/><circle cx="1557.4" cy="55.7" r="1.9"/><circle cx="1549.5" cy="59.5" r="1.9"/><circle cx="1564.2" cy="66.5" r="1.9"/><circle cx="1561.1" cy="70.2" r="1.9"/><circle cx="1561.2" cy="70.4" r="1.9"/><circle cx="1557.2" cy="76.3" r="1.9"/><circle cx="1547.9" cy="78.2" r="1.9"/><circle cx="1605.2" cy="104.8" r="1.9"/><circle cx="1605.2" cy="105.0" r="1.9"/><circle cx="1576.2" cy="109.4" r="1.9"/><circle cx="1581.1" cy="112.4" r="1.9"/><circle cx="1501.4" cy="112.0" r="1.9"/><circle cx="1507.5" cy="113.1" r="1.9"/><circle cx="1516.6" cy="117.3" r="1.9"/><circle cx="1547.4" cy="117.9" r="1.9"/><circle cx="1548.9" cy="119.7" r="1.9"/><circle cx="1561.5" cy="119.2" r="1.9"/><circle cx="1573.2" cy="120.4" r="1.9"/><circle cx="1588.3" cy="117.1" r="1.9"/><circle cx="1592.6" cy="118.0" r="1.9"/><circle cx="1524.6" cy="121.0" r="1.9"/><circle cx="1533.1" cy="122.0" r="1.9"/><circle cx="1581.2" cy="122.8" r="1.9"/><circle cx="1620.9" cy="123.1" r="1.9"/><circle cx="1511.2" cy="124.4" r="1.9"/><circle cx="1633.3" cy="126.0" r="1.9"/><circle cx="1505.7" cy="126.0" r="1.9"/><circle cx="1504.8" cy="128.1" r="1.9"/><circle cx="1499.9" cy="129.9" r="1.9"/><circle cx="1551.0" cy="129.9" r="1.9"/><circle cx="1573.5" cy="130.0" r="1.9"/><circle cx="1577.2" cy="131.8" r="1.9"/><circle cx="1559.9" cy="131.5" r="1.9"/><circle cx="1568.9" cy="132.5" r="1.9"/><circle cx="1593.3" cy="129.6" r="1.9"/><circle cx="1605.9" cy="129.0" r="1.9"/><circle cx="1649.0" cy="129.7" r="1.9"/><circle cx="1651.8" cy="131.5" r="1.9"/><circle cx="1517.8" cy="130.8" r="1.9"/><circle cx="1520.8" cy="131.6" r="1.9"/><circle cx="1497.1" cy="133.7" r="1.9"/><circle cx="1539.3" cy="133.3" r="1.9"/><circle cx="1509.2" cy="133.9" r="1.9"/><circle cx="1511.9" cy="135.6" r="1.9"/><circle cx="1501.5" cy="136.5" r="1.9"/><circle cx="1516.8" cy="137.0" r="1.9"/><circle cx="1567.0" cy="136.1" r="1.9"/><circle cx="1580.0" cy="134.9" r="1.9"/><circle cx="1584.2" cy="135.9" r="1.9"/><circle cx="1600.0" cy="135.4" r="1.9"/><circle cx="1628.9" cy="132.4" r="1.9"/><circle cx="1623.7" cy="134.6" r="1.9"/><circle cx="1625.6" cy="137.3" r="1.9"/><circle cx="1653.9" cy="136.5" r="1.9"/><circle cx="1547.2" cy="138.5" r="1.9"/><circle cx="1558.8" cy="137.1" r="1.9"/><circle cx="1556.6" cy="140.4" r="1.9"/><circle cx="1576.0" cy="138.9" r="1.9"/><circle cx="1605.3" cy="138.6" r="1.9"/><circle cx="1618.8" cy="138.0" r="1.9"/><circle cx="1631.4" cy="138.6" r="1.9"/><circle cx="1503.0" cy="140.1" r="1.9"/><circle cx="1506.9" cy="142.0" r="1.9"/><circle cx="1486.7" cy="140.4" r="1.9"/><circle cx="1487.5" cy="142.9" r="1.9"/><circle cx="1497.1" cy="143.2" r="1.9"/><circle cx="1512.7" cy="143.2" r="1.9"/><circle cx="1525.7" cy="142.9" r="1.9"/><circle cx="1527.8" cy="143.8" r="1.9"/><circle cx="1568.9" cy="141.3" r="1.9"/><circle cx="1591.4" cy="142.0" r="1.9"/><circle cx="1600.9" cy="143.9" r="1.9"/><circle cx="1548.2" cy="146.3" r="1.9"/><circle cx="1563.0" cy="145.7" r="1.9"/><circle cx="1575.7" cy="145.1" r="1.9"/><circle cx="1571.7" cy="146.8" r="1.9"/><circle cx="1582.2" cy="147.3" r="1.9"/><circle cx="1586.8" cy="146.8" r="1.9"/><circle cx="1490.1" cy="147.2" r="1.9"/><circle cx="1514.6" cy="149.3" r="1.9"/><circle cx="1536.3" cy="148.8" r="1.9"/><circle cx="1568.6" cy="148.8" r="1.9"/><circle cx="1601.9" cy="150.7" r="1.9"/><circle cx="1607.4" cy="150.7" r="1.9"/><circle cx="1622.5" cy="149.7" r="1.9"/><circle cx="1557.1" cy="150.9" r="1.9"/><circle cx="1446.8" cy="155.7" r="1.9"/><circle cx="1437.1" cy="167.0" r="1.9"/><circle cx="1464.1" cy="165.5" r="1.9"/><circle cx="1458.9" cy="168.8" r="1.9"/><circle cx="1292.2" cy="172.6" r="1.9"/><circle cx="1280.8" cy="186.1" r="1.9"/><circle cx="1314.8" cy="194.8" r="1.9"/><circle cx="1266.3" cy="197.6" r="1.9"/><circle cx="1357.9" cy="199.3" r="1.9"/><circle cx="1401.3" cy="231.4" r="1.9"/><circle cx="1398.9" cy="232.9" r="1.9"/><circle cx="1400.0" cy="241.3" r="1.9"/><circle cx="1263.3" cy="249.5" r="1.9"/><circle cx="1546.1" cy="154.4" r="1.9"/><circle cx="1550.0" cy="157.4" r="1.9"/><circle cx="1580.8" cy="154.4" r="1.9"/><circle cx="1620.3" cy="154.3" r="1.9"/><circle cx="1631.8" cy="154.7" r="1.9"/><circle cx="1634.8" cy="155.1" r="1.9"/><circle cx="1628.9" cy="157.2" r="1.9"/><circle cx="1506.3" cy="156.5" r="1.9"/><circle cx="1510.6" cy="156.9" r="1.9"/><circle cx="1515.0" cy="155.6" r="1.9"/><circle cx="1531.5" cy="158.8" r="1.9"/><circle cx="1684.0" cy="159.4" r="1.9"/><circle cx="1491.6" cy="161.1" r="1.9"/><circle cx="1491.5" cy="161.2" r="1.9"/><circle cx="1490.4" cy="162.0" r="1.9"/><circle cx="1501.4" cy="162.7" r="1.9"/><circle cx="1597.3" cy="162.0" r="1.9"/><circle cx="1601.9" cy="160.9" r="1.9"/><circle cx="1608.0" cy="161.7" r="1.9"/><circle cx="1648.0" cy="162.0" r="1.9"/><circle cx="1697.9" cy="161.8" r="1.9"/><circle cx="1524.5" cy="164.2" r="1.9"/><circle cx="1510.9" cy="164.6" r="1.9"/><circle cx="1506.9" cy="166.0" r="1.9"/><circle cx="1543.9" cy="164.0" r="1.9"/><circle cx="1539.0" cy="166.8" r="1.9"/><circle cx="1626.4" cy="164.6" r="1.9"/><circle cx="1630.2" cy="165.2" r="1.9"/><circle cx="1677.3" cy="165.4" r="1.9"/><circle cx="1647.1" cy="166.8" r="1.9"/><circle cx="1652.9" cy="167.4" r="1.9"/><circle cx="1516.6" cy="167.7" r="1.9"/><circle cx="1525.4" cy="168.5" r="1.9"/><circle cx="1504.8" cy="169.4" r="1.9"/><circle cx="1574.7" cy="170.8" r="1.9"/><circle cx="1586.7" cy="170.7" r="1.9"/><circle cx="1592.3" cy="170.2" r="1.9"/><circle cx="1604.5" cy="169.4" r="1.9"/><circle cx="1612.9" cy="170.0" r="1.9"/><circle cx="1688.7" cy="168.9" r="1.9"/><circle cx="1672.1" cy="171.0" r="1.9"/><circle cx="1680.6" cy="171.7" r="1.9"/><circle cx="1507.5" cy="174.4" r="1.9"/><circle cx="1634.2" cy="172.9" r="1.9"/><circle cx="1641.6" cy="174.2" r="1.9"/><circle cx="1665.9" cy="172.9" r="1.9"/><circle cx="1660.4" cy="174.2" r="1.9"/><circle cx="1655.2" cy="176.0" r="1.9"/><circle cx="1609.6" cy="175.0" r="1.9"/><circle cx="1693.7" cy="175.6" r="1.9"/><circle cx="1626.1" cy="177.1" r="1.9"/><circle cx="1644.0" cy="178.1" r="1.9"/><circle cx="1685.4" cy="178.2" r="1.9"/><circle cx="1665.9" cy="178.8" r="1.9"/><circle cx="1671.1" cy="178.8" r="1.9"/><circle cx="1635.7" cy="179.9" r="1.9"/><circle cx="1607.0" cy="180.9" r="1.9"/><circle cx="1584.5" cy="182.1" r="1.9"/><circle cx="1658.6" cy="182.1" r="1.9"/><circle cx="1648.0" cy="183.4" r="1.9"/><circle cx="1692.3" cy="182.8" r="1.9"/><circle cx="1696.3" cy="182.4" r="1.9"/><circle cx="1487.5" cy="183.1" r="1.9"/><circle cx="1486.7" cy="187.7" r="1.9"/><circle cx="1505.1" cy="185.5" r="1.9"/><circle cx="1529.8" cy="184.8" r="1.9"/><circle cx="1558.8" cy="182.8" r="1.9"/><circle cx="1558.8" cy="183.0" r="1.9"/><circle cx="1600.3" cy="184.6" r="1.9"/><circle cx="1604.0" cy="186.7" r="1.9"/><circle cx="1586.7" cy="186.5" r="1.9"/><circle cx="1591.9" cy="187.1" r="1.9"/><circle cx="1675.5" cy="186.1" r="1.9"/><circle cx="1699.8" cy="185.5" r="1.9"/><circle cx="1686.2" cy="187.3" r="1.9"/><circle cx="1665.3" cy="187.9" r="1.9"/><circle cx="1669.5" cy="189.2" r="1.9"/><circle cx="1707.4" cy="188.2" r="1.9"/><circle cx="1711.8" cy="190.4" r="1.9"/><circle cx="1636.3" cy="189.3" r="1.9"/><circle cx="1644.7" cy="191.7" r="1.9"/><circle cx="1652.9" cy="191.0" r="1.9"/><circle cx="1652.9" cy="194.2" r="1.9"/><circle cx="1675.5" cy="192.0" r="1.9"/><circle cx="1694.6" cy="191.1" r="1.9"/><circle cx="1677.9" cy="195.7" r="1.9"/><circle cx="1702.3" cy="194.1" r="1.9"/><circle cx="1517.5" cy="193.9" r="1.9"/><circle cx="1638.1" cy="196.2" r="1.9"/><circle cx="1500.8" cy="197.0" r="1.9"/><circle cx="1505.2" cy="200.6" r="1.9"/><circle cx="1589.1" cy="198.1" r="1.9"/><circle cx="1629.3" cy="200.0" r="1.9"/><circle cx="1542.7" cy="201.2" r="1.9"/><circle cx="1543.4" cy="204.5" r="1.9"/><circle cx="1690.3" cy="200.6" r="1.9"/><circle cx="1664.4" cy="201.2" r="1.9"/><circle cx="1658.1" cy="202.2" r="1.9"/><circle cx="1653.3" cy="203.6" r="1.9"/><circle cx="1672.7" cy="203.0" r="1.9"/><circle cx="1704.1" cy="201.9" r="1.9"/><circle cx="1712.8" cy="201.2" r="1.9"/><circle cx="1717.0" cy="202.8" r="1.9"/><circle cx="1616.3" cy="205.2" r="1.9"/><circle cx="1616.0" cy="209.2" r="1.9"/><circle cx="1694.9" cy="206.2" r="1.9"/><circle cx="1699.2" cy="207.1" r="1.9"/><circle cx="1703.9" cy="208.2" r="1.9"/><circle cx="1709.0" cy="209.3" r="1.9"/><circle cx="1718.6" cy="209.0" r="1.9"/><circle cx="1521.1" cy="209.9" r="1.9"/><circle cx="1631.1" cy="209.3" r="1.9"/><circle cx="1635.7" cy="212.0" r="1.9"/><circle cx="1663.5" cy="209.3" r="1.9"/><circle cx="1690.0" cy="209.8" r="1.9"/><circle cx="1676.7" cy="212.0" r="1.9"/><circle cx="1723.9" cy="212.4" r="1.9"/><circle cx="1612.7" cy="214.2" r="1.9"/><circle cx="1609.5" cy="217.8" r="1.9"/><circle cx="1548.6" cy="215.9" r="1.9"/><circle cx="1644.0" cy="215.6" r="1.9"/><circle cx="1696.0" cy="214.8" r="1.9"/><circle cx="1701.1" cy="214.4" r="1.9"/><circle cx="1720.8" cy="216.9" r="1.9"/><circle cx="1722.8" cy="219.4" r="1.9"/><circle cx="1625.8" cy="218.4" r="1.9"/><circle cx="1678.5" cy="218.4" r="1.9"/><circle cx="1682.2" cy="219.0" r="1.9"/><circle cx="1684.4" cy="217.2" r="1.9"/><circle cx="1691.2" cy="218.8" r="1.9"/><circle cx="1704.7" cy="219.1" r="1.9"/><circle cx="1709.3" cy="219.4" r="1.9"/><circle cx="1631.1" cy="221.3" r="1.9"/><circle cx="1659.5" cy="221.3" r="1.9"/><circle cx="1662.6" cy="220.7" r="1.9"/><circle cx="1519.2" cy="225.0" r="1.9"/><circle cx="1628.4" cy="229.0" r="1.9"/><circle cx="1660.7" cy="228.0" r="1.9"/><circle cx="1685.3" cy="231.3" r="1.9"/><circle cx="1705.7" cy="231.3" r="1.9"/><circle cx="1705.9" cy="231.4" r="1.9"/><circle cx="1535.3" cy="229.5" r="1.9"/><circle cx="1549.8" cy="227.5" r="1.9"/><circle cx="1551.7" cy="230.1" r="1.9"/><circle cx="1542.0" cy="232.6" r="1.9"/><circle cx="1543.2" cy="236.0" r="1.9"/><circle cx="1575.7" cy="231.7" r="1.9"/><circle cx="1572.9" cy="234.5" r="1.9"/><circle cx="1559.3" cy="236.7" r="1.9"/><circle cx="1630.7" cy="234.2" r="1.9"/><circle cx="1535.9" cy="240.7" r="1.9"/><circle cx="1530.4" cy="243.1" r="1.9"/><circle cx="1543.0" cy="243.7" r="1.9"/><circle cx="1565.5" cy="246.6" r="1.9"/><circle cx="1570.4" cy="245.9" r="1.9"/><circle cx="1546.3" cy="250.1" r="1.9"/><circle cx="1563.0" cy="251.7" r="1.9"/><circle cx="1575.7" cy="251.8" r="1.9"/><circle cx="1578.1" cy="252.7" r="1.9"/><circle cx="1552.9" cy="255.1" r="1.9"/><circle cx="1554.6" cy="262.8" r="1.9"/><circle cx="1255.6" cy="278.1" r="1.9"/><circle cx="1308.6" cy="300.5" r="1.9"/></g><g class="r" stroke-width="0.9"><circle cx="1363.8" cy="99.7" r="1.9"/><circle cx="1375.1" cy="98.9" r="1.9"/><circle cx="1391.8" cy="98.2" r="1.9"/><circle cx="1401.5" cy="96.3" r="1.9"/><circle cx="1372.0" cy="101.6" r="1.9"/><circle cx="1388.1" cy="101.1" r="1.9"/><circle cx="1395.8" cy="100.9" r="1.9"/><circle cx="1399.5" cy="100.9" r="1.9"/><circle cx="1369.0" cy="105.6" r="1.9"/><circle cx="1390.8" cy="104.4" r="1.9"/><circle cx="1375.1" cy="108.0" r="1.9"/><circle cx="1383.5" cy="107.8" r="1.9"/><circle cx="1372.0" cy="110.0" r="1.9"/><circle cx="1380.7" cy="109.6" r="1.9"/><circle cx="1396.4" cy="108.4" r="1.9"/><circle cx="1399.5" cy="109.0" r="1.9"/><circle cx="1402.5" cy="107.4" r="1.9"/><circle cx="1387.7" cy="111.1" r="1.9"/><circle cx="1391.1" cy="112.1" r="1.9"/><circle cx="1377.3" cy="113.0" r="1.9"/><circle cx="1412.3" cy="112.5" r="1.9"/><circle cx="1408.0" cy="116.3" r="1.9"/><circle cx="1352.2" cy="112.5" r="1.9"/><circle cx="1356.6" cy="113.0" r="1.9"/><circle cx="1347.6" cy="117.6" r="1.9"/><circle cx="1361.2" cy="120.4" r="1.9"/><circle cx="1368.1" cy="123.1" r="1.9"/><circle cx="1373.0" cy="121.0" r="1.9"/><circle cx="1380.0" cy="122.8" r="1.9"/><circle cx="1355.0" cy="123.9" r="1.9"/><circle cx="1345.6" cy="124.7" r="1.9"/><circle cx="1341.0" cy="125.0" r="1.9"/><circle cx="1350.5" cy="126.2" r="1.9"/><circle cx="1407.1" cy="124.5" r="1.9"/><circle cx="1403.1" cy="127.1" r="1.9"/><circle cx="1341.2" cy="131.5" r="1.9"/><circle cx="1346.5" cy="132.5" r="1.9"/><circle cx="1360.1" cy="134.6" r="1.9"/><circle cx="1335.6" cy="135.6" r="1.9"/><circle cx="1342.4" cy="135.4" r="1.9"/><circle cx="1338.1" cy="137.1" r="1.9"/><circle cx="1388.6" cy="136.4" r="1.9"/><circle cx="1395.7" cy="139.6" r="1.9"/><circle cx="1432.3" cy="136.2" r="1.9"/><circle cx="1432.3" cy="136.4" r="1.9"/><circle cx="1300.8" cy="136.5" r="1.9"/><circle cx="1331.1" cy="141.3" r="1.9"/><circle cx="1390.8" cy="142.6" r="1.9"/><circle cx="1394.5" cy="145.3" r="1.9"/><circle cx="1405.6" cy="142.0" r="1.9"/><circle cx="1338.8" cy="146.6" r="1.9"/><circle cx="1345.9" cy="148.1" r="1.9"/><circle cx="1375.5" cy="145.3" r="1.9"/><circle cx="1369.6" cy="148.8" r="1.9"/><circle cx="1368.6" cy="150.3" r="1.9"/><circle cx="1479.5" cy="147.9" r="1.9"/><circle cx="1548.3" cy="65.5" r="1.9"/><circle cx="1490.0" cy="132.7" r="1.9"/><circle cx="1587.3" cy="141.4" r="1.9"/><circle cx="1502.1" cy="146.9" r="1.9"/><circle cx="1311.1" cy="152.2" r="1.9"/><circle cx="1324.5" cy="153.4" r="1.9"/><circle cx="1333.1" cy="152.9" r="1.9"/><circle cx="1323.1" cy="157.2" r="1.9"/><circle cx="1336.8" cy="156.9" r="1.9"/><circle cx="1341.9" cy="155.4" r="1.9"/><circle cx="1406.0" cy="155.0" r="1.9"/><circle cx="1300.2" cy="159.3" r="1.9"/><circle cx="1398.6" cy="160.2" r="1.9"/><circle cx="1455.8" cy="160.6" r="1.9"/><circle cx="1307.7" cy="163.6" r="1.9"/><circle cx="1304.8" cy="164.9" r="1.9"/><circle cx="1319.0" cy="164.6" r="1.9"/><circle cx="1351.1" cy="163.9" r="1.9"/><circle cx="1375.4" cy="164.8" r="1.9"/><circle cx="1282.7" cy="166.4" r="1.9"/><circle cx="1284.2" cy="165.8" r="1.9"/><circle cx="1460.8" cy="165.2" r="1.9"/><circle cx="1345.9" cy="167.6" r="1.9"/><circle cx="1362.5" cy="168.0" r="1.9"/><circle cx="1300.9" cy="168.9" r="1.9"/><circle cx="1352.9" cy="170.5" r="1.9"/><circle cx="1370.8" cy="171.3" r="1.9"/><circle cx="1399.8" cy="171.9" r="1.9"/><circle cx="1484.5" cy="167.7" r="1.9"/><circle cx="1320.9" cy="173.7" r="1.9"/><circle cx="1335.9" cy="175.1" r="1.9"/><circle cx="1320.2" cy="177.8" r="1.9"/><circle cx="1283.6" cy="176.9" r="1.9"/><circle cx="1295.4" cy="177.2" r="1.9"/><circle cx="1350.8" cy="177.1" r="1.9"/><circle cx="1436.0" cy="175.9" r="1.9"/><circle cx="1302.4" cy="179.9" r="1.9"/><circle cx="1346.8" cy="179.7" r="1.9"/><circle cx="1347.0" cy="179.9" r="1.9"/><circle cx="1291.7" cy="181.8" r="1.9"/><circle cx="1297.2" cy="182.1" r="1.9"/><circle cx="1355.1" cy="183.3" r="1.9"/><circle cx="1307.0" cy="184.3" r="1.9"/><circle cx="1336.2" cy="184.3" r="1.9"/><circle cx="1328.9" cy="185.4" r="1.9"/><circle cx="1297.2" cy="186.1" r="1.9"/><circle cx="1292.8" cy="187.1" r="1.9"/><circle cx="1445.1" cy="182.4" r="1.9"/><circle cx="1439.2" cy="184.9" r="1.9"/><circle cx="1266.3" cy="190.4" r="1.9"/><circle cx="1285.8" cy="191.0" r="1.9"/><circle cx="1298.1" cy="191.6" r="1.9"/><circle cx="1304.8" cy="191.1" r="1.9"/><circle cx="1341.8" cy="189.9" r="1.9"/><circle cx="1269.5" cy="195.0" r="1.9"/><circle cx="1290.0" cy="195.9" r="1.9"/><circle cx="1346.4" cy="194.7" r="1.9"/><circle cx="1283.6" cy="200.7" r="1.9"/><circle cx="1288.8" cy="202.1" r="1.9"/><circle cx="1298.4" cy="200.2" r="1.9"/><circle cx="1309.2" cy="200.9" r="1.9"/><circle cx="1329.1" cy="198.7" r="1.9"/><circle cx="1334.4" cy="200.9" r="1.9"/><circle cx="1323.7" cy="202.7" r="1.9"/><circle cx="1356.0" cy="204.6" r="1.9"/><circle cx="1269.2" cy="206.4" r="1.9"/><circle cx="1304.0" cy="206.2" r="1.9"/><circle cx="1335.3" cy="206.8" r="1.9"/><circle cx="1402.9" cy="205.3" r="1.9"/><circle cx="1402.5" cy="208.0" r="1.9"/><circle cx="1280.0" cy="209.0" r="1.9"/><circle cx="1288.0" cy="211.1" r="1.9"/><circle cx="1309.2" cy="209.0" r="1.9"/><circle cx="1313.9" cy="210.2" r="1.9"/><circle cx="1328.0" cy="212.4" r="1.9"/><circle cx="1282.7" cy="215.1" r="1.9"/><circle cx="1328.6" cy="216.4" r="1.9"/><circle cx="1357.0" cy="215.4" r="1.9"/><circle cx="1363.1" cy="214.7" r="1.9"/><circle cx="1378.9" cy="214.5" r="1.9"/><circle cx="1384.9" cy="215.7" r="1.9"/><circle cx="1394.8" cy="215.9" r="1.9"/><circle cx="1399.5" cy="215.9" r="1.9"/><circle cx="1277.2" cy="219.8" r="1.9"/><circle cx="1288.8" cy="219.1" r="1.9"/><circle cx="1345.6" cy="218.2" r="1.9"/><circle cx="1301.8" cy="220.3" r="1.9"/><circle cx="1302.7" cy="219.7" r="1.9"/><circle cx="1267.6" cy="222.1" r="1.9"/><circle cx="1307.9" cy="222.2" r="1.9"/><circle cx="1350.1" cy="222.7" r="1.9"/><circle cx="1360.4" cy="222.2" r="1.9"/><circle cx="1387.7" cy="221.2" r="1.9"/><circle cx="1397.8" cy="222.5" r="1.9"/><circle cx="1484.5" cy="221.8" r="1.9"/><circle cx="1258.4" cy="223.7" r="1.9"/><circle cx="1255.6" cy="226.8" r="1.9"/><circle cx="1363.8" cy="225.8" r="1.9"/><circle cx="1302.4" cy="228.9" r="1.9"/><circle cx="1396.6" cy="228.6" r="1.9"/><circle cx="1409.0" cy="228.0" r="1.9"/><circle cx="1413.6" cy="228.0" r="1.9"/><circle cx="1287.6" cy="231.1" r="1.9"/><circle cx="1357.5" cy="229.6" r="1.9"/><circle cx="1352.7" cy="232.0" r="1.9"/><circle cx="1374.8" cy="231.1" r="1.9"/><circle cx="1378.1" cy="233.6" r="1.9"/><circle cx="1408.0" cy="234.8" r="1.9"/><circle cx="1268.2" cy="236.1" r="1.9"/><circle cx="1272.9" cy="238.9" r="1.9"/><circle cx="1285.5" cy="237.5" r="1.9"/><circle cx="1287.7" cy="239.8" r="1.9"/><circle cx="1316.9" cy="237.0" r="1.9"/><circle cx="1333.1" cy="235.8" r="1.9"/><circle cx="1382.7" cy="236.0" r="1.9"/><circle cx="1388.6" cy="239.8" r="1.9"/><circle cx="1311.7" cy="241.9" r="1.9"/><circle cx="1340.9" cy="242.8" r="1.9"/><circle cx="1261.1" cy="243.5" r="1.9"/><circle cx="1287.6" cy="246.2" r="1.9"/><circle cx="1293.1" cy="247.1" r="1.9"/><circle cx="1291.6" cy="249.3" r="1.9"/><circle cx="1357.5" cy="246.4" r="1.9"/><circle cx="1349.5" cy="248.0" r="1.9"/><circle cx="1385.3" cy="248.3" r="1.9"/><circle cx="1268.6" cy="249.0" r="1.9"/><circle cx="1275.5" cy="249.9" r="1.9"/><circle cx="1267.9" cy="252.1" r="1.9"/><circle cx="1307.4" cy="250.8" r="1.9"/><circle cx="1334.4" cy="252.4" r="1.9"/><circle cx="1249.8" cy="256.7" r="1.9"/><circle cx="1269.4" cy="257.6" r="1.9"/><circle cx="1275.9" cy="259.4" r="1.9"/><circle cx="1261.7" cy="260.7" r="1.9"/><circle cx="1270.7" cy="261.8" r="1.9"/><circle cx="1286.9" cy="260.4" r="1.9"/><circle cx="1330.5" cy="261.5" r="1.9"/><circle cx="1383.8" cy="260.1" r="1.9"/><circle cx="1308.5" cy="261.9" r="1.9"/><circle cx="1308.6" cy="262.0" r="1.9"/><circle cx="1309.2" cy="263.5" r="1.9"/><circle cx="1375.5" cy="263.5" r="1.9"/><circle cx="1345.6" cy="265.0" r="1.9"/><circle cx="1350.8" cy="264.7" r="1.9"/><circle cx="1266.9" cy="265.3" r="1.9"/><circle cx="1383.4" cy="265.9" r="1.9"/><circle cx="1491.3" cy="170.0" r="1.9"/><circle cx="1513.5" cy="183.3" r="1.9"/><circle cx="1559.6" cy="184.8" r="1.9"/><circle cx="1566.4" cy="191.1" r="1.9"/><circle cx="1509.1" cy="205.5" r="1.9"/><circle cx="1616.7" cy="216.4" r="1.9"/><circle cx="1559.6" cy="221.9" r="1.9"/><circle cx="1518.4" cy="224.1" r="1.9"/><circle cx="1557.1" cy="254.1" r="1.9"/><circle cx="1700.4" cy="167.0" r="1.9"/><circle cx="1258.1" cy="268.5" r="1.9"/><circle cx="1262.6" cy="270.7" r="1.9"/><circle cx="1250.1" cy="271.9" r="1.9"/><circle cx="1272.2" cy="269.8" r="1.9"/><circle cx="1278.7" cy="272.2" r="1.9"/><circle cx="1292.0" cy="269.4" r="1.9"/><circle cx="1288.2" cy="274.9" r="1.9"/><circle cx="1274.9" cy="278.1" r="1.9"/><circle cx="1281.2" cy="280.7" r="1.9"/><circle cx="1387.7" cy="270.1" r="1.9"/><circle cx="1390.6" cy="269.7" r="1.9"/><circle cx="1349.8" cy="273.7" r="1.9"/><circle cx="1345.9" cy="276.7" r="1.9"/><circle cx="1337.6" cy="277.8" r="1.9"/><circle cx="1339.6" cy="280.2" r="1.9"/><circle cx="1376.6" cy="279.6" r="1.9"/><circle cx="1258.9" cy="285.7" r="1.9"/><circle cx="1265.1" cy="284.8" r="1.9"/><circle cx="1277.4" cy="285.5" r="1.9"/><circle cx="1295.1" cy="285.1" r="1.9"/><circle cx="1307.9" cy="284.4" r="1.9"/><circle cx="1296.6" cy="288.1" r="1.9"/><circle cx="1368.6" cy="284.2" r="1.9"/><circle cx="1369.9" cy="288.1" r="1.9"/><circle cx="1379.8" cy="288.1" r="1.9"/><circle cx="1382.5" cy="288.5" r="1.9"/><circle cx="1257.5" cy="289.7" r="1.9"/><circle cx="1262.9" cy="291.9" r="1.9"/><circle cx="1269.2" cy="290.9" r="1.9"/><circle cx="1284.8" cy="291.5" r="1.9"/><circle cx="1366.5" cy="290.7" r="1.9"/><circle cx="1341.9" cy="293.5" r="1.9"/><circle cx="1362.7" cy="294.1" r="1.9"/><circle cx="1364.9" cy="296.1" r="1.9"/><circle cx="1257.2" cy="295.8" r="1.9"/><circle cx="1271.9" cy="295.2" r="1.9"/><circle cx="1275.3" cy="296.1" r="1.9"/><circle cx="1340.3" cy="296.8" r="1.9"/><circle cx="1380.0" cy="295.3" r="1.9"/><circle cx="1281.5" cy="300.8" r="1.9"/><circle cx="1288.5" cy="301.7" r="1.9"/><circle cx="1265.7" cy="302.6" r="1.9"/><circle cx="1270.1" cy="301.7" r="1.9"/><circle cx="1305.1" cy="302.0" r="1.9"/><circle cx="1301.8" cy="303.8" r="1.9"/><circle cx="1367.0" cy="300.6" r="1.9"/><circle cx="1360.3" cy="302.0" r="1.9"/><circle cx="1354.8" cy="306.1" r="1.9"/><circle cx="1282.9" cy="311.8" r="1.9"/><circle cx="1286.0" cy="312.5" r="1.9"/><circle cx="1335.1" cy="311.3" r="1.9"/><circle cx="1326.8" cy="312.9" r="1.9"/><circle cx="1270.7" cy="316.8" r="1.9"/><circle cx="1276.8" cy="317.1" r="1.9"/><circle cx="1285.2" cy="318.9" r="1.9"/><circle cx="1327.0" cy="321.2" r="1.9"/><circle cx="1321.8" cy="322.6" r="1.9"/><circle cx="1312.9" cy="326.0" r="1.9"/><circle cx="1309.8" cy="326.4" r="1.9"/><circle cx="1307.7" cy="330.0" r="1.9"/><circle cx="1290.0" cy="330.6" r="1.9"/><circle cx="1290.9" cy="331.4" r="1.9"/><circle cx="1326.2" cy="331.6" r="1.9"/><circle cx="1304.5" cy="334.0" r="1.9"/></g><rect x="1235.3" y="45.3" width="270.4" height="54.2" rx="3" ry="3" fill="#fff" fill-opacity="0.55" stroke="#d9d9d9" stroke-opacity="0.85" stroke-width="1"/><circle class="b" cx="1258.9" cy="58.9" r="4.65" stroke-width="1.0"/><circle class="r" cx="1258.9" cy="83.4" r="4.65" stroke-width="1.0"/><text class="lg" font-size="16.88" x="1288.55" y="64.1">Apple Cedar Apple Rust</text><text class="lg" font-size="16.88" x="1288.55" y="89">Apple Frog Eye Leaf Spot</text><rect x="1226.3" y="36.4" width="522.3" height="311.90000000000003" fill="none" stroke="#333" stroke-width="1"/><line x1="1235.8" x2="1235.8" y1="348.3" y2="351.8" stroke="#444" stroke-width="1.1"/><text class="tk" transform="translate(1235.8,372.4) scale(1,1.07)" text-anchor="middle">−40</text><line x1="1349.6" x2="1349.6" y1="348.3" y2="351.8" stroke="#444" stroke-width="1.1"/><text class="tk" transform="translate(1349.6,372.4) scale(1,1.07)" text-anchor="middle">−20</text><line x1="1463.4" x2="1463.4" y1="348.3" y2="351.8" stroke="#444" stroke-width="1.1"/><text class="tk" transform="translate(1463.4,372.4) scale(1,1.07)" text-anchor="middle">0</text><line x1="1577.2" x2="1577.2" y1="348.3" y2="351.8" stroke="#444" stroke-width="1.1"/><text class="tk" transform="translate(1577.2,372.4) scale(1,1.07)" text-anchor="middle">20</text><line x1="1691.0" x2="1691.0" y1="348.3" y2="351.8" stroke="#444" stroke-width="1.1"/><text class="tk" transform="translate(1691.0,372.4) scale(1,1.07)" text-anchor="middle">40</text><line x1="1222.8999999999999" x2="1226.3" y1="58.6" y2="58.6" stroke="#444" stroke-width="1.1"/><text class="tk" transform="translate(1219.2,67.5) scale(1,1.07)" text-anchor="end">15</text><line x1="1222.8999999999999" x2="1226.3" y1="103.6" y2="103.6" stroke="#444" stroke-width="1.1"/><text class="tk" transform="translate(1219.2,112.5) scale(1,1.07)" text-anchor="end">10</text><line x1="1222.8999999999999" x2="1226.3" y1="148.6" y2="148.6" stroke="#444" stroke-width="1.1"/><text class="tk" transform="translate(1219.2,157.5) scale(1,1.07)" text-anchor="end">5</text><line x1="1222.8999999999999" x2="1226.3" y1="193.6" y2="193.6" stroke="#444" stroke-width="1.1"/><text class="tk" transform="translate(1219.2,202.5) scale(1,1.07)" text-anchor="end">0</text><line x1="1222.8999999999999" x2="1226.3" y1="238.6" y2="238.6" stroke="#444" stroke-width="1.1"/><text class="tk" transform="translate(1219.2,247.5) scale(1,1.07)" text-anchor="end">−5</text><line x1="1222.8999999999999" x2="1226.3" y1="283.6" y2="283.6" stroke="#444" stroke-width="1.1"/><text class="tk" transform="translate(1219.2,292.6) scale(1,1.07)" text-anchor="end">−10</text><line x1="1222.8999999999999" x2="1226.3" y1="328.6" y2="328.6" stroke="#444" stroke-width="1.1"/><text class="tk" transform="translate(1219.2,337.6) scale(1,1.07)" text-anchor="end">−15</text></g>
<g id="pd"><text class="ttl" x="779.6" y="423.8" font-size="29.6" textLength="187.1">(d) Finetuning</text><g class="b" stroke-width="0.9"><circle cx="936.9" cy="517.2" r="3.6"/><circle cx="936.9" cy="517.2" r="3.6"/><circle cx="953.3" cy="511.9" r="3.6"/><circle cx="1006.1" cy="514.7" r="3.6"/><circle cx="963.7" cy="549.1" r="3.6"/><circle cx="979.7" cy="549.5" r="3.6"/><circle cx="979.7" cy="549.5" r="3.6"/><circle cx="947.8" cy="559.8" r="3.6"/><circle cx="909.3" cy="598.0" r="3.6"/><circle cx="842.1" cy="602.4" r="3.6"/><circle cx="842.1" cy="602.4" r="3.6"/><circle cx="1030.2" cy="454.1" r="3.6"/><circle cx="1026.5" cy="514.7" r="3.6"/><circle cx="1026.5" cy="514.7" r="3.6"/><circle cx="1057.3" cy="524.2" r="3.6"/><circle cx="1059.5" cy="539.5" r="3.6"/><circle cx="1115.8" cy="525.6" r="3.6"/><circle cx="824.8" cy="621.9" r="3.6"/><circle cx="836.9" cy="624.4" r="3.6"/><circle cx="942.6" cy="631.4" r="3.6"/><circle cx="942.6" cy="631.4" r="3.6"/><circle cx="827.5" cy="645.1" r="3.6"/><circle cx="923.2" cy="646.5" r="3.6"/><circle cx="822.1" cy="677.0" r="3.6"/><circle cx="934.6" cy="729.6" r="3.6"/></g><g class="r" stroke-width="0.9"><circle cx="739.1" cy="472.5" r="3.6"/><circle cx="725.9" cy="512.2" r="3.6"/><circle cx="767.4" cy="511.3" r="3.6"/><circle cx="650.8" cy="525.8" r="3.6"/><circle cx="782" cy="527.2" r="3.6"/><circle cx="699" cy="536.1" r="3.6"/><circle cx="732.1" cy="542.9" r="3.6"/><circle cx="749.2" cy="549.8" r="3.6"/><circle cx="756.4" cy="561.8" r="3.6"/><circle cx="718.2" cy="568.9" r="3.6"/><circle cx="732.1" cy="569.8" r="3.6"/><circle cx="671.7" cy="581.6" r="3.6"/><circle cx="784" cy="579.5" r="3.6"/><circle cx="819.8" cy="599.0" r="3.6"/><circle cx="656.9" cy="609.2" r="3.6"/><circle cx="792.5" cy="614.9" r="3.6"/><circle cx="723.9" cy="625.5" r="3.6"/><circle cx="768.1" cy="639.6" r="3.6"/><circle cx="830.9" cy="650.3" r="3.6"/><circle cx="745.1" cy="660.6" r="3.6"/><circle cx="705.2" cy="685.9" r="3.6"/><circle cx="757.6" cy="696.8" r="3.6"/><circle cx="855.1" cy="737.8" r="3.6"/><circle cx="1101" cy="526.3" r="3.6"/><circle cx="1029.9" cy="646.2" r="3.6"/></g><rect x="865.3" y="449.1" width="266.5" height="53.8" rx="3" ry="3" fill="#fff" fill-opacity="0.55" stroke="#d9d9d9" stroke-opacity="0.85" stroke-width="1"/><circle class="b" cx="888.3" cy="462.8" r="4.55" stroke-width="1.0"/><circle class="r" cx="888.3" cy="486.9" r="4.55" stroke-width="1.0"/><text class="lg" font-size="16.6" x="917.55" y="468">Apple Cedar Apple Rust</text><text class="lg" font-size="16.6" x="917.55" y="492.6">Apple Frog Eye Leaf Spot</text><rect x="628" y="440.2" width="511.70000000000005" height="312.2" fill="none" stroke="#333" stroke-width="1"/><line x1="672.1" x2="672.1" y1="752.4" y2="755.9" stroke="#444" stroke-width="1.1"/><text class="tk" transform="translate(672.1,776.5) scale(1,1.07)" text-anchor="middle">−5</text><line x1="737.2" x2="737.2" y1="752.4" y2="755.9" stroke="#444" stroke-width="1.1"/><text class="tk" transform="translate(737.2,776.5) scale(1,1.07)" text-anchor="middle">−4</text><line x1="802.2" x2="802.2" y1="752.4" y2="755.9" stroke="#444" stroke-width="1.1"/><text class="tk" transform="translate(802.2,776.5) scale(1,1.07)" text-anchor="middle">−3</text><line x1="867.3" x2="867.3" y1="752.4" y2="755.9" stroke="#444" stroke-width="1.1"/><text class="tk" transform="translate(867.3,776.5) scale(1,1.07)" text-anchor="middle">−2</text><line x1="932.4" x2="932.4" y1="752.4" y2="755.9" stroke="#444" stroke-width="1.1"/><text class="tk" transform="translate(932.4,776.5) scale(1,1.07)" text-anchor="middle">−1</text><line x1="997.4" x2="997.4" y1="752.4" y2="755.9" stroke="#444" stroke-width="1.1"/><text class="tk" transform="translate(997.4,776.5) scale(1,1.07)" text-anchor="middle">0</text><line x1="1062.5" x2="1062.5" y1="752.4" y2="755.9" stroke="#444" stroke-width="1.1"/><text class="tk" transform="translate(1062.5,776.5) scale(1,1.07)" text-anchor="middle">1</text><line x1="1127.5" x2="1127.5" y1="752.4" y2="755.9" stroke="#444" stroke-width="1.1"/><text class="tk" transform="translate(1127.5,776.5) scale(1,1.07)" text-anchor="middle">2</text><line x1="624.6" x2="628" y1="461.1" y2="461.1" stroke="#444" stroke-width="1.1"/><text class="tk" transform="translate(620.9,470.1) scale(1,1.07)" text-anchor="end">6.5</text><line x1="624.6" x2="628" y1="515.3" y2="515.3" stroke="#444" stroke-width="1.1"/><text class="tk" transform="translate(620.9,524.2) scale(1,1.07)" text-anchor="end">6.0</text><line x1="624.6" x2="628" y1="569.6" y2="569.6" stroke="#444" stroke-width="1.1"/><text class="tk" transform="translate(620.9,578.6) scale(1,1.07)" text-anchor="end">5.5</text><line x1="624.6" x2="628" y1="623.9" y2="623.9" stroke="#444" stroke-width="1.1"/><text class="tk" transform="translate(620.9,632.9) scale(1,1.07)" text-anchor="end">5.0</text><line x1="624.6" x2="628" y1="678.1" y2="678.1" stroke="#444" stroke-width="1.1"/><text class="tk" transform="translate(620.9,687.1) scale(1,1.07)" text-anchor="end">4.5</text><line x1="624.6" x2="628" y1="732.4" y2="732.4" stroke="#444" stroke-width="1.1"/><text class="tk" transform="translate(620.9,741.4) scale(1,1.07)" text-anchor="end">4.0</text></g>
<g id="pe"><text class="ttl" x="1414.7" y="423.8" font-size="29.6" textLength="147.7">(e) Original</text><g class="b" stroke-width="0.9"><circle cx="1570.4" cy="453.6" r="3.6"/><circle cx="1531.2" cy="483.0" r="3.6"/><circle cx="1553.7" cy="507.8" r="3.6"/><circle cx="1498.2" cy="495.1" r="3.6"/><circle cx="1459.2" cy="529.5" r="3.6"/><circle cx="1459.2" cy="529.5" r="3.6"/><circle cx="1452.4" cy="535.2" r="3.6"/><circle cx="1487" cy="542.7" r="3.6"/><circle cx="1248.9" cy="539.0" r="3.6"/><circle cx="1339.8" cy="552.5" r="3.6"/><circle cx="1353.5" cy="553.6" r="3.6"/><circle cx="1353.5" cy="553.6" r="3.6"/><circle cx="1381.5" cy="568.2" r="3.6"/><circle cx="1381.5" cy="568.2" r="3.6"/><circle cx="1489" cy="579.4" r="3.6"/><circle cx="1594.3" cy="581.9" r="3.6"/><circle cx="1387.2" cy="601.5" r="3.6"/><circle cx="1636.2" cy="573.9" r="3.6"/><circle cx="1676.7" cy="559.3" r="3.6"/><circle cx="1722.7" cy="564.1" r="3.6"/><circle cx="1541.7" cy="619.1" r="3.6"/><circle cx="1541.7" cy="619.1" r="3.6"/><circle cx="1491.3" cy="636.0" r="3.6"/><circle cx="1443.2" cy="652.6" r="3.6"/><circle cx="1443.2" cy="652.6" r="3.6"/></g><g class="r" stroke-width="0.9"><circle cx="1558.7" cy="459.5" r="3.6"/><circle cx="1496.3" cy="495.3" r="3.6"/><circle cx="1490.4" cy="524.7" r="3.6"/><circle cx="1264.9" cy="551.6" r="3.6"/><circle cx="1425.3" cy="587.3" r="3.6"/><circle cx="1509.8" cy="641.0" r="3.6"/><circle cx="1488.8" cy="664.9" r="3.6"/><circle cx="1505.2" cy="667.2" r="3.6"/><circle cx="1476" cy="672.9" r="3.6"/><circle cx="1460.1" cy="690.2" r="3.6"/><circle cx="1425.7" cy="696.8" r="3.6"/><circle cx="1512.5" cy="697.9" r="3.6"/><circle cx="1549.2" cy="696.1" r="3.6"/><circle cx="1355.3" cy="709.3" r="3.6"/><circle cx="1549.2" cy="715.5" r="3.6"/><circle cx="1597.5" cy="722.1" r="3.6"/><circle cx="1337.1" cy="726.2" r="3.6"/><circle cx="1352.6" cy="727.8" r="3.6"/><circle cx="1376.3" cy="726.0" r="3.6"/><circle cx="1378.6" cy="731.2" r="3.6"/><circle cx="1545.3" cy="729.4" r="3.6"/><circle cx="1596.5" cy="729.8" r="3.6"/><circle cx="1427.3" cy="734.2" r="3.6"/><circle cx="1509.1" cy="737.4" r="3.6"/><circle cx="1545.5" cy="736.0" r="3.6"/></g><rect x="1234.4" y="448.3" width="270.3" height="54" rx="3" ry="3" fill="#fff" fill-opacity="0.55" stroke="#d9d9d9" stroke-opacity="0.85" stroke-width="1"/><circle class="b" cx="1257.8" cy="462.0" r="4.55" stroke-width="1.0"/><circle class="r" cx="1257.8" cy="486.3" r="4.55" stroke-width="1.0"/><text class="lg" font-size="16.86" x="1288.0" y="467.4">Apple Cedar Apple Rust</text><text class="lg" font-size="16.86" x="1288.0" y="492.3">Apple Frog Eye Leaf Spot</text><rect x="1225.4" y="439.4" width="521.6999999999998" height="312.20000000000005" fill="none" stroke="#333" stroke-width="1"/><line x1="1251.3" x2="1251.3" y1="751.6" y2="755.1" stroke="#444" stroke-width="1.1"/><text class="tk" transform="translate(1251.3,775.7) scale(1,1.07)" text-anchor="middle">−0.6</text><line x1="1317.8" x2="1317.8" y1="751.6" y2="755.1" stroke="#444" stroke-width="1.1"/><text class="tk" transform="translate(1317.8,775.7) scale(1,1.07)" text-anchor="middle">−0.4</text><line x1="1384.4" x2="1384.4" y1="751.6" y2="755.1" stroke="#444" stroke-width="1.1"/><text class="tk" transform="translate(1384.4,775.7) scale(1,1.07)" text-anchor="middle">−0.2</text><line x1="1451.0" x2="1451.0" y1="751.6" y2="755.1" stroke="#444" stroke-width="1.1"/><text class="tk" transform="translate(1451.0,775.7) scale(1,1.07)" text-anchor="middle">0.0</text><line x1="1517.6" x2="1517.6" y1="751.6" y2="755.1" stroke="#444" stroke-width="1.1"/><text class="tk" transform="translate(1517.6,775.7) scale(1,1.07)" text-anchor="middle">0.2</text><line x1="1584.2" x2="1584.2" y1="751.6" y2="755.1" stroke="#444" stroke-width="1.1"/><text class="tk" transform="translate(1584.2,775.7) scale(1,1.07)" text-anchor="middle">0.4</text><line x1="1650.7" x2="1650.7" y1="751.6" y2="755.1" stroke="#444" stroke-width="1.1"/><text class="tk" transform="translate(1650.7,775.7) scale(1,1.07)" text-anchor="middle">0.6</text><line x1="1717.3" x2="1717.3" y1="751.6" y2="755.1" stroke="#444" stroke-width="1.1"/><text class="tk" transform="translate(1717.3,775.7) scale(1,1.07)" text-anchor="middle">0.8</text><line x1="1222.0" x2="1225.4" y1="469.8" y2="469.8" stroke="#444" stroke-width="1.1"/><text class="tk" transform="translate(1218.3,478.8) scale(1,1.07)" text-anchor="end">−1</text><line x1="1222.0" x2="1225.4" y1="515.0" y2="515.0" stroke="#444" stroke-width="1.1"/><text class="tk" transform="translate(1218.3,524.0) scale(1,1.07)" text-anchor="end">−2</text><line x1="1222.0" x2="1225.4" y1="560.3" y2="560.3" stroke="#444" stroke-width="1.1"/><text class="tk" transform="translate(1218.3,569.2) scale(1,1.07)" text-anchor="end">−3</text><line x1="1222.0" x2="1225.4" y1="605.5" y2="605.5" stroke="#444" stroke-width="1.1"/><text class="tk" transform="translate(1218.3,614.5) scale(1,1.07)" text-anchor="end">−4</text><line x1="1222.0" x2="1225.4" y1="650.7" y2="650.7" stroke="#444" stroke-width="1.1"/><text class="tk" transform="translate(1218.3,659.7) scale(1,1.07)" text-anchor="end">−5</text><line x1="1222.0" x2="1225.4" y1="696.0" y2="696.0" stroke="#444" stroke-width="1.1"/><text class="tk" transform="translate(1218.3,705.0) scale(1,1.07)" text-anchor="end">−6</text><line x1="1222.0" x2="1225.4" y1="741.2" y2="741.2" stroke="#444" stroke-width="1.1"/><text class="tk" transform="translate(1218.3,750.2) scale(1,1.07)" text-anchor="end">−7</text></g>
</svg></body></html>
